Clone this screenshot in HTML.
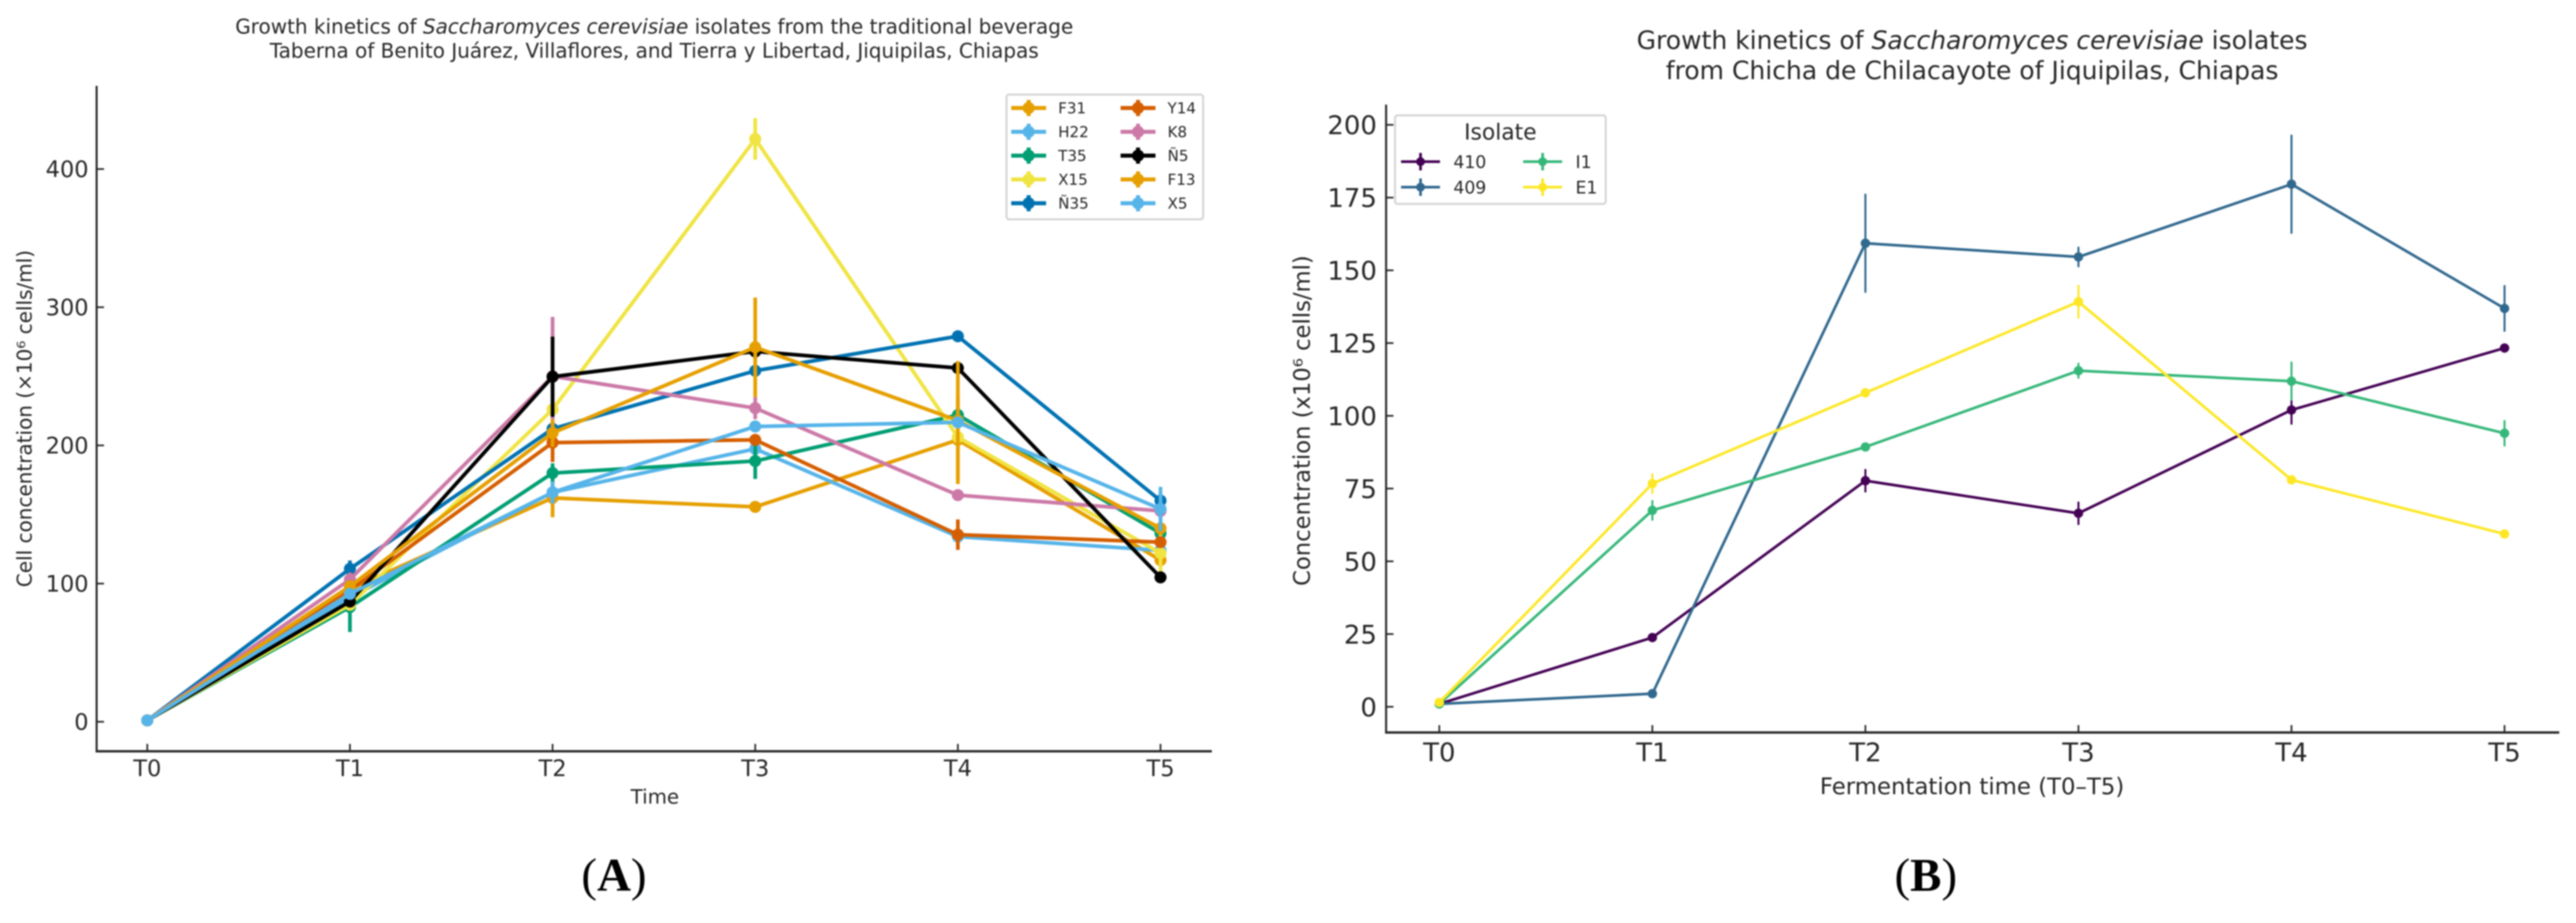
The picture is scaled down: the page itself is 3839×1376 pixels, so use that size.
<!DOCTYPE html>
<html lang="en">
<head>
<meta charset="utf-8">
<title>Growth kinetics of Saccharomyces cerevisiae isolates</title>
<style>
html,body{margin:0;padding:0;background:#fff;}
body{width:3839px;height:1376px;overflow:hidden;}
svg{display:block;filter:blur(1px);}
text{font-family:"DejaVu Sans",sans-serif;fill:#262626;}
.panel{font-family:"Liberation Serif",serif;fill:#000;}
</style>
</head>
<body>
<svg id="figure" xmlns="http://www.w3.org/2000/svg" width="3839" height="1376" viewBox="0 0 3839 1376">
  <rect x="0" y="0" width="3839" height="1376" fill="#ffffff"/>

  <g id="chartA">
    <text x="975" y="50" text-anchor="middle" font-size="29.8">Growth kinetics of <tspan font-style="italic">Saccharomyces cerevisiae</tspan> isolates from the traditional beverage</text>
    <text x="975" y="86" text-anchor="middle" font-size="29.8">Taberna of Benito Juárez, Villaflores, and Tierra y Libertad, Jiquipilas, Chiapas</text>
    <text transform="translate(47,624) rotate(-90)" text-anchor="middle" font-size="29.8">Cell concentration (×10⁶ cells/ml)</text>
    <text x="976" y="1198" text-anchor="middle" font-size="29.5">Time</text>
  </g>

  <g id="chartB">
    <text x="2939" y="73" text-anchor="middle" font-size="37.3">Growth kinetics of <tspan font-style="italic">Saccharomyces cerevisiae</tspan> isolates</text>
    <text x="2939" y="118" text-anchor="middle" font-size="37.3">from Chicha de Chilacayote of Jiquipilas, Chiapas</text>
    <text transform="translate(1952,627) rotate(-90)" text-anchor="middle" font-size="33.8">Concentration (x10⁶ cells/ml)</text>
    <text x="2939" y="1184" text-anchor="middle" font-size="34">Fermentation time (T0–T5)</text>
  </g>

  <text class="panel" x="915" y="1328" text-anchor="middle" font-size="70">(<tspan font-weight="bold">A</tspan>)</text>
  <text class="panel" x="2870" y="1328" text-anchor="middle" font-size="70">(<tspan font-weight="bold">B</tspan>)</text>
</svg>

<script>
// ---- Shared categories ----
const timeCategories = ['T0', 'T1', 'T2', 'T3', 'T4', 'T5'];

// ---- Chart A data (x10^6 cells/ml) ----
const yTicksA = [0, 100, 200, 300, 400];
const f31Values = [1, 96, 162, 155.5, 204, 117];
const f31Errors = [0, 3, 14, 2, 32, 3];
const h22Values = [1, 90, 166, 197.5, 134, 124];
const h22Errors = [0, 3, 8, 4, 4, 3];
const t35Values = [1, 83, 180, 188.7, 222, 136.4];
const t35Errors = [0, 18, 7, 13, 5, 4];
const x15Values = [1, 84.7, 226, 421.8, 206, 122];
const x15Errors = [0, 3, 6, 15, 5, 18];
const n35Values = [1, 110.7, 212, 254, 279, 160];
const n35Errors = [0, 6, 5, 4, 3, 5];
const y14Values = [1, 95, 202, 204, 135.4, 130];
const y14Errors = [0, 3, 14, 3, 11, 3];
const k8Values = [1, 103, 250, 227, 164, 152.6];
const k8Errors = [0, 5, 43, 8, 3, 6];
const n5Values = [1, 87, 249.7, 268, 256, 104.5];
const n5Errors = [0, 4, 29, 5, 3, 3];
const f13Values = [1, 98, 209, 271, 218, 140];
const f13Errors = [0, 4, 10, 36, 43, 5];
const x5Values = [1, 92.5, 166, 213.7, 216.7, 154];
const x5Errors = [0, 4, 8, 4, 4, 16];

// ---- Chart B data (x10^6 cells/ml) ----
const yTicksB = [0, 25, 50, 75, 100, 125, 150, 175, 200];
const i410Values = [1, 23.8, 77.7, 66.5, 102, 123.3];
const i410Errors = [0, 1, 4, 4, 5, 1];
const i409Values = [1, 4.5, 159.3, 154.6, 179.6, 136.9];
const i409Errors = [0, 1, 17, 3.5, 17, 8];
const i1Values = [1, 67.5, 89.3, 115.5, 111.9, 94];
const i1Errors = [0, 3.5, 1, 2.7, 6.7, 4.5];
const e1Values = [1.5, 76.7, 107.9, 139.2, 78, 59.4];
const e1Errors = [0, 3.5, 1, 5.8, 1, 1];

const seriesA = [
  {name: 'F31', color: '#E69F00', values: f31Values, errors: f31Errors},
  {name: 'H22', color: '#56B4E9', values: h22Values, errors: h22Errors},
  {name: 'T35', color: '#009E73', values: t35Values, errors: t35Errors},
  {name: 'X15', color: '#F0E442', values: x15Values, errors: x15Errors},
  {name: 'Ñ35', color: '#0072B2', values: n35Values, errors: n35Errors},
  {name: 'Y14', color: '#D55E00', values: y14Values, errors: y14Errors},
  {name: 'K8', color: '#CC79A7', values: k8Values, errors: k8Errors},
  {name: 'Ñ5', color: '#000000', values: n5Values, errors: n5Errors},
  {name: 'F13', color: '#E69F00', values: f13Values, errors: f13Errors},
  {name: 'X5', color: '#56B4E9', values: x5Values, errors: x5Errors}
];
const seriesB = [
  {name: '410', color: '#440154', values: i410Values, errors: i410Errors},
  {name: '409', color: '#31688E', values: i409Values, errors: i409Errors},
  {name: 'I1', color: '#35B779', values: i1Values, errors: i1Errors},
  {name: 'E1', color: '#FDE725', values: e1Values, errors: e1Errors}
];

const NS = 'http://www.w3.org/2000/svg';
function mk(parent, tag, attrs) {
  const el = document.createElementNS(NS, tag);
  for (const k in attrs) el.setAttribute(k, attrs[k]);
  parent.appendChild(el);
  return el;
}
function slug(s) {
  return s.toLowerCase().replace('ñ', 'n');
}

function drawChart(root, prefix, cfg, categories, yTicks, series) {
  const xOf = i => cfg.x0 + cfg.xStep * i;
  const yOf = v => cfg.y0 - cfg.yScale * v;

  const axes = mk(root, 'g', {});
  
  

  const left = mk(axes, 'line', {x1: cfg.left, x2: cfg.left, y1: cfg.top, y2: cfg.bottom, stroke: '#262626', 'stroke-width': 3});
  
  
  const bottom = mk(axes, 'line', {x1: cfg.left - 1.5, x2: cfg.right, y1: cfg.bottom, y2: cfg.bottom, stroke: '#262626', 'stroke-width': 3.5});
  
  

  categories.forEach((c, i) => {
    const tick = mk(axes, 'line', {x1: xOf(i), x2: xOf(i), y1: cfg.bottom, y2: cfg.bottom - 11, stroke: '#262626', 'stroke-width': 2.5});
    
    
    const lab = mk(axes, 'text', {x: xOf(i), y: cfg.xLabelY, 'text-anchor': 'middle', 'font-size': cfg.tickFont});
    lab.textContent = c;
    
    
  });
  yTicks.forEach(v => {
    const tick = mk(axes, 'line', {x1: cfg.left, x2: cfg.left + 11, y1: yOf(v), y2: yOf(v), stroke: '#262626', 'stroke-width': 2.5});
    
    
    const lab = mk(axes, 'text', {x: cfg.yLabelX, y: yOf(v) + cfg.tickFont * 0.365, 'text-anchor': 'end', 'font-size': cfg.tickFont});
    lab.textContent = v;
    
    
  });

  series.forEach(s => {
    const g = mk(root, 'g', {});
    
    
    s.values.forEach((v, i) => {
      if (!s.errors[i]) return;
      const e = mk(g, 'line', {x1: xOf(i), x2: xOf(i), y1: yOf(v - s.errors[i]), y2: yOf(v + s.errors[i]), stroke: s.color, 'stroke-width': cfg.errWidth});
      
      
    });
    const pts = s.values.map((v, i) => xOf(i) + ',' + yOf(v)).join(' ');
    const line = mk(g, 'polyline', {points: pts, fill: 'none', stroke: s.color, 'stroke-width': cfg.lineWidth, 'stroke-linejoin': 'round'});
    
    
    s.values.forEach((v, i) => {
      const m = mk(g, 'circle', {cx: xOf(i), cy: yOf(v), r: cfg.markerR, fill: s.color});
      
      
    });
  });

  const lg = cfg.legend;
  const legend = mk(root, 'g', {});
  
  
  const box = mk(legend, 'rect', {x: lg.x, y: lg.y, width: lg.w, height: lg.h, rx: 4, fill: '#fff', stroke: '#d4d4d4', 'stroke-width': 3});
  
  
  if (lg.title) {
    const t = mk(legend, 'text', {x: lg.titleX, y: lg.titleY, 'text-anchor': 'middle', 'font-size': lg.titleFont});
    t.textContent = lg.title;
    
    
  }
  const perCol = Math.ceil(series.length / 2);
  series.forEach((s, i) => {
    const col = Math.floor(i / perCol);
    const row = i % perCol;
    const cx = lg.handleX[col];
    const cy = lg.firstRow + row * lg.rowStep;
    const entry = mk(legend, 'g', {});
    
    
    mk(entry, 'line', {x1: cx - lg.handleHalf, x2: cx + lg.handleHalf, y1: cy, y2: cy, stroke: s.color, 'stroke-width': lg.lineWidth});
    mk(entry, 'line', {x1: cx, x2: cx, y1: cy - lg.errHalf, y2: cy + lg.errHalf, stroke: s.color, 'stroke-width': lg.errWidth});
    mk(entry, 'circle', {cx: cx, cy: cy, r: lg.markerR, fill: s.color});
    const label = mk(entry, 'text', {x: lg.textX[col], y: cy + lg.font * 0.365, 'font-size': lg.font});
    label.textContent = s.name;
  });
}

drawChart(document.getElementById('chartA'), 'chart-a', {
  x0: 219.5, xStep: 302, y0: 1076, yScale: 2.06,
  left: 144, right: 1806, top: 128, bottom: 1120,
  tickFont: 33.5, xLabelY: 1157, yLabelX: 132,
  lineWidth: 5.5, errWidth: 5.5, markerR: 9,
  legend: {
    x: 1500, y: 141, w: 293, h: 186, firstRow: 161, rowStep: 35.5,
    handleX: [1533, 1696], handleHalf: 26, textX: [1577, 1740],
    font: 22.5, lineWidth: 6, errWidth: 6, errHalf: 12, markerR: 9
  }
}, timeCategories, yTicksA, seriesA);

drawChart(document.getElementById('chartB'), 'chart-b', {
  x0: 2145, xStep: 317.5, y0: 1053.7, yScale: 4.338,
  left: 2065.7, right: 3814, top: 156, bottom: 1092,
  tickFont: 38.7, xLabelY: 1135, yLabelX: 2052,
  lineWidth: 4, errWidth: 3, markerR: 7,
  legend: {
    x: 2079, y: 172, w: 314, h: 132, firstRow: 241, rowStep: 38,
    handleX: [2117, 2299], handleHalf: 29, textX: [2166, 2348],
    font: 25.7, lineWidth: 4, errWidth: 4, errHalf: 13, markerR: 6.5,
    title: 'Isolate', titleX: 2236, titleY: 208, titleFont: 32.5
  }
}, timeCategories, yTicksB, seriesB);
</script>
</body>
</html>
